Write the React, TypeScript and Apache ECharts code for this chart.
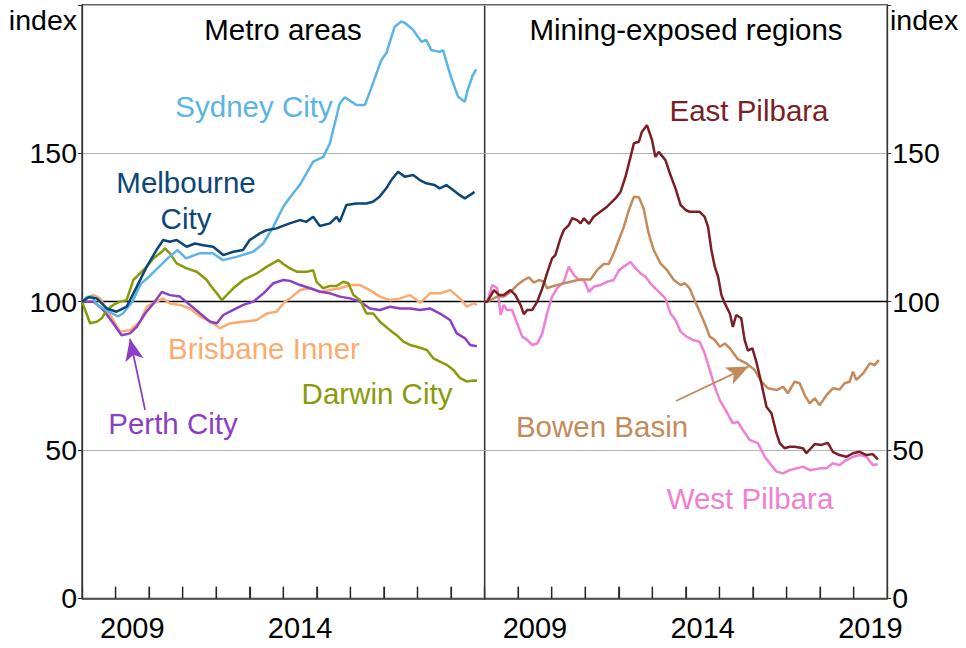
import { useEffect, useRef } from "react";
import * as echarts from "echarts";

const FONT = '"Liberation Sans", Arial, Helvetica, sans-serif';

// ---- Metro areas (left panel) : [year, index] ----
const sydneyCity = [
  [2008.0, 100], [2008.15, 101.5], [2008.3, 101.8], [2008.44, 99], [2008.74, 97], [2009.07, 95],
  [2009.22, 96], [2009.5, 100], [2009.75, 106], [2010.0, 108.4], [2010.3, 111.8], [2010.6, 115.1],
  [2010.85, 117.4], [2011.1, 114.6], [2011.5, 116.3], [2011.9, 116.3], [2012.2, 114], [2012.6, 115.1],
  [2013.1, 116.8], [2013.4, 119.6], [2013.7, 125.2], [2014.0, 132], [2014.19, 135], [2014.49, 139.3],
  [2014.89, 147.2], [2015.19, 148.8], [2015.39, 153.4], [2015.68, 166.8], [2015.83, 168.9], [2016.18, 166.3],
  [2016.43, 166.3], [2016.58, 170.7], [2016.92, 181.4], [2017.07, 183.7], [2017.32, 192.7], [2017.52, 194.4],
  [2017.62, 194], [2017.87, 191.6], [2018.12, 187.6], [2018.26, 188.2], [2018.41, 184.8], [2018.66, 184.2],
  [2018.76, 184.8], [2019.01, 175.3], [2019.21, 169.1], [2019.41, 167.4], [2019.5, 171.5], [2019.65, 176.4],
  [2019.75, 178.3],
];
const melbourneCity = [
  [2008.0, 100], [2008.2, 101.5], [2008.44, 101.1], [2008.74, 97.7], [2009.03, 96.6], [2009.33, 98.3],
  [2009.63, 105], [2009.93, 111.8], [2010.22, 117.4], [2010.42, 120.8], [2010.62, 120.2], [2010.82, 120.8],
  [2011.12, 118.5], [2011.37, 119.6], [2011.61, 119], [2011.91, 118.5], [2012.21, 115.7], [2012.51, 116.8],
  [2012.8, 117.4], [2013.0, 120.8], [2013.3, 123], [2013.5, 124.1], [2013.8, 124.7], [2014.05, 125.8],
  [2014.19, 126.4], [2014.49, 127.5], [2014.69, 126.9], [2014.89, 128.6], [2015.09, 125.5], [2015.39, 126.4],
  [2015.59, 128.6], [2015.68, 126.9], [2015.88, 132.6], [2016.18, 133.1], [2016.48, 133.1], [2016.67, 133.7],
  [2016.87, 135.4], [2017.07, 138.2], [2017.22, 141], [2017.42, 143.8], [2017.62, 142.1], [2017.87, 142.7],
  [2018.07, 141], [2018.26, 139.9], [2018.51, 139.3], [2018.66, 138.2], [2018.86, 139.3], [2019.06, 137.6],
  [2019.26, 135.9], [2019.41, 134.8], [2019.56, 135.9], [2019.7, 137],
];
const darwinCity = [
  [2008.0, 100], [2008.1, 97], [2008.24, 92.7], [2008.44, 93.2], [2008.59, 94.4], [2008.74, 97.2],
  [2008.93, 98.9], [2009.13, 100], [2009.33, 100.5], [2009.53, 107.3], [2009.73, 109.5], [2009.93, 111.8],
  [2010.13, 114.6], [2010.38, 116.8], [2010.47, 118], [2010.62, 116.3], [2010.82, 112.9], [2011.12, 111.2],
  [2011.42, 110.1], [2011.72, 107.3], [2011.82, 105.6], [2012.02, 102.8], [2012.17, 100.5], [2012.31, 102.2],
  [2012.51, 104.5], [2012.81, 107.3], [2013.21, 109.5], [2013.51, 111.8], [2013.85, 114], [2014.05, 112.3],
  [2014.2, 111.2], [2014.4, 110.1], [2014.7, 110.1], [2014.89, 110.6], [2014.99, 106.7], [2015.19, 104.5],
  [2015.39, 105.3], [2015.59, 105.3], [2015.79, 106.7], [2015.94, 106.2], [2016.09, 102.2], [2016.29, 100.5],
  [2016.48, 96], [2016.68, 96], [2016.88, 93.2], [2017.18, 90.4], [2017.38, 88.7], [2017.58, 86.5],
  [2017.78, 85.4], [2017.98, 84.8], [2018.28, 83.7], [2018.47, 80.9], [2018.67, 79.8], [2018.87, 78.7],
  [2019.07, 77], [2019.27, 74.2], [2019.47, 73.1], [2019.67, 73.4], [2019.77, 73.3],
];
const brisbaneInner = [
  [2008.0, 100], [2008.15, 101.5], [2008.34, 102.2], [2008.54, 101.1], [2008.74, 97.2], [2008.93, 93.8],
  [2009.13, 89.9], [2009.43, 90.4], [2009.73, 93.2], [2009.93, 98.3], [2010.22, 100], [2010.42, 101.1],
  [2010.62, 99.4], [2010.92, 98.9], [2011.22, 97.7], [2011.52, 95], [2011.91, 92.7], [2012.11, 91],
  [2012.41, 92.7], [2012.81, 93.2], [2013.21, 93.8], [2013.51, 96], [2013.8, 96.6], [2014.05, 100],
  [2014.2, 101.1], [2014.5, 103.9], [2014.8, 104.5], [2015.1, 103.3], [2015.39, 103.9], [2015.69, 104.5],
  [2015.99, 105.6], [2016.29, 105.6], [2016.58, 103.9], [2016.88, 101.7], [2017.18, 100.5], [2017.48, 101.1],
  [2017.78, 102.2], [2018.08, 99.6], [2018.37, 102.8], [2018.67, 102.8], [2018.97, 103.9], [2019.27, 101.1],
  [2019.47, 98.3], [2019.67, 99.4], [2019.77, 98.9],
];
const perthCity = [
  [2008.0, 100], [2008.34, 100], [2008.64, 97.2], [2008.93, 92.7], [2009.18, 88.7], [2009.43, 89.3],
  [2009.63, 91.5], [2009.88, 96], [2010.13, 99.4], [2010.38, 103.3], [2010.62, 102.2], [2010.92, 101.7],
  [2011.22, 98.9], [2011.52, 96], [2011.82, 93.2], [2012.02, 92.7], [2012.21, 95.5], [2012.51, 97.2],
  [2012.81, 98.9], [2013.11, 100], [2013.41, 102.8], [2013.7, 106.2], [2014.0, 107.3], [2014.2, 107],
  [2014.5, 105.6], [2014.8, 104.5], [2015.1, 103.3], [2015.39, 102.8], [2015.69, 101.7], [2015.99, 101.1],
  [2016.29, 100], [2016.58, 97.7], [2016.88, 97.2], [2017.18, 98.3], [2017.48, 97.7], [2017.78, 97.7],
  [2018.08, 97.2], [2018.37, 97.7], [2018.67, 96], [2018.97, 93.8], [2019.17, 89.3], [2019.42, 87.6],
  [2019.57, 85.4], [2019.77, 85],
];

// ---- Mining-exposed regions (right panel) ----
const eastPilbara = [
  [2008.0, 100], [2008.08, 100], [2008.28, 103.9], [2008.43, 102.2], [2008.57, 102.2], [2008.77, 103.9],
  [2008.92, 102.2], [2009.07, 98.9], [2009.17, 95.8], [2009.27, 97.2], [2009.42, 97.2], [2009.57, 100],
  [2009.72, 104.5], [2009.86, 109.5], [2010.01, 114.6], [2010.11, 115.7], [2010.26, 121.3], [2010.36, 124.1],
  [2010.51, 125.8], [2010.61, 128.1], [2010.76, 127.5], [2010.86, 126.4], [2010.96, 128.1], [2011.11, 126.2],
  [2011.25, 128.6], [2011.45, 130.3], [2011.65, 132], [2011.75, 133.1], [2011.9, 134.8], [2012.05, 137],
  [2012.2, 142.1], [2012.35, 148.8], [2012.45, 153.4], [2012.6, 153.9], [2012.69, 157.3], [2012.84, 159.5],
  [2012.99, 154.5], [2013.09, 148.8], [2013.19, 150.5], [2013.39, 147.7], [2013.54, 142.7], [2013.69, 138.2],
  [2013.84, 132.6], [2013.99, 130.9], [2014.11, 130.3], [2014.41, 130.3], [2014.56, 128.6], [2014.66, 125.2],
  [2014.76, 117.4], [2014.86, 111.8], [2014.96, 108.4], [2015.06, 102.2], [2015.16, 99.4], [2015.31, 96],
  [2015.4, 91.5], [2015.5, 95.5], [2015.65, 94.4], [2015.75, 87.1], [2015.85, 83.5], [2015.98, 84.3],
  [2016.1, 79.7], [2016.25, 72.5], [2016.4, 64.6], [2016.55, 62.4], [2016.7, 55.6], [2016.8, 52.2],
  [2016.94, 50.6], [2017.09, 51.1], [2017.24, 51.1], [2017.49, 50.6], [2017.59, 48.9], [2017.84, 52],
  [2018.04, 51.7], [2018.23, 52.4], [2018.38, 49.4], [2018.58, 48.3], [2018.78, 47.7], [2018.98, 48.9],
  [2019.18, 49.4], [2019.38, 48.3], [2019.57, 48.6], [2019.72, 46.8],
];
const bowenBasin = [
  [2008.0, 100], [2008.08, 100], [2008.38, 101.7], [2008.57, 101.7], [2008.77, 103.3], [2008.97, 105.6],
  [2009.17, 107.3], [2009.32, 108.2], [2009.47, 106.4], [2009.62, 107.3], [2009.77, 106.7], [2009.86, 104.5],
  [2010.06, 105.3], [2010.26, 105.9], [2010.56, 106.7], [2010.86, 107.5], [2011.16, 107.5], [2011.35, 110.6],
  [2011.55, 112.7], [2011.7, 112.7], [2011.85, 116.3], [2012.0, 120.8], [2012.15, 125.2], [2012.3, 130.9],
  [2012.45, 135.4], [2012.6, 135.2], [2012.74, 131.4], [2012.89, 123], [2013.04, 117.4], [2013.24, 112.9],
  [2013.44, 110.6], [2013.64, 107.3], [2013.84, 105.6], [2013.97, 106.2], [2014.11, 104.5], [2014.26, 100.5],
  [2014.41, 96.6], [2014.56, 92.7], [2014.71, 88.2], [2014.86, 87.1], [2015.01, 84.8], [2015.16, 85.9],
  [2015.31, 84.3], [2015.55, 80.6], [2015.8, 79.2], [2016.05, 77], [2016.25, 73], [2016.45, 70.8],
  [2016.7, 70.2], [2016.9, 71.3], [2017.04, 69.1], [2017.24, 73], [2017.39, 72.5], [2017.54, 68.5],
  [2017.69, 65.7], [2017.84, 67.4], [2017.99, 65.1], [2018.19, 68.5], [2018.38, 70.8], [2018.58, 70.4],
  [2018.73, 72.5], [2018.88, 73], [2018.98, 76.4], [2019.08, 73.6], [2019.28, 75.8], [2019.48, 79.2],
  [2019.63, 78.6], [2019.75, 80.3],
];
const westPilbara = [
  [2008.0, 100], [2008.08, 100], [2008.23, 105.6], [2008.38, 104.5], [2008.48, 95.5], [2008.57, 98.9],
  [2008.67, 97.2], [2008.82, 97.2], [2008.97, 92.7], [2009.12, 88.2], [2009.27, 87.1], [2009.42, 85.4],
  [2009.57, 85.9], [2009.72, 89.3], [2009.86, 96], [2010.01, 101.7], [2010.16, 104.5], [2010.36, 106.7],
  [2010.51, 111.8], [2010.66, 109], [2010.81, 107.3], [2010.96, 107.3], [2011.11, 103.3], [2011.25, 105],
  [2011.45, 105.6], [2011.65, 106.7], [2011.85, 107.3], [2012.0, 110.6], [2012.15, 111.8], [2012.35, 113.4],
  [2012.5, 111.2], [2012.65, 109.5], [2012.8, 108.4], [2012.94, 106.2], [2013.14, 103.9], [2013.39, 101.1],
  [2013.54, 96], [2013.69, 93.8], [2013.84, 89.9], [2014.02, 88.2], [2014.21, 87.1], [2014.41, 86.5],
  [2014.56, 82.6], [2014.71, 77], [2014.86, 71.3], [2015.01, 66.8], [2015.21, 62.9], [2015.4, 59],
  [2015.55, 59.5], [2015.7, 56.7], [2015.9, 53.4], [2016.15, 52.2], [2016.35, 47.7], [2016.5, 45.5],
  [2016.7, 42.7], [2016.9, 42.1], [2017.09, 43.2], [2017.29, 43.8], [2017.49, 44.4], [2017.69, 43.2],
  [2017.99, 43.8], [2018.19, 43.8], [2018.38, 45.5], [2018.58, 44.9], [2018.78, 46.6], [2018.98, 47.7],
  [2019.18, 48.3], [2019.38, 47.7], [2019.57, 44.9], [2019.72, 45.2],
];

const tickYears = [2009, 2010, 2011, 2012, 2013, 2014, 2015, 2016, 2017, 2018, 2019];
const leftYearLabels = [2009, 2014];
const rightYearLabels = [2009, 2014, 2019];
const perthArrow = [[2009.88, 63.5], [2009.43, 87.5]];
const bowenArrow = [[2013.7, 66.5], [2015.87, 78.1]];

const C = {
  sydney: "#5AB4E5",
  melbourne: "#0B4679",
  darwin: "#8A9A0B",
  brisbane: "#FDAA6E",
  perth: "#8B3FC4",
  east: "#7B1E26",
  bowen: "#C48A5A",
  west: "#F07FD3",
};

const AXIS_COLOR = "#333";
const G_TOP = 5;
const G_H = 593.3;
const G_W = 402.6;
const LEFT1 = 82;
const LEFT2 = 484.6;
const ANN = 29.5;
const HALF_YEAR_PX = G_W / 12;
const TICK_LEN = 11.5;
const TICK_UNITS = TICK_LEN / (G_H / 200);

function xAxis(gridIndex: number, years: number[]) {
  return {
    type: "value" as const,
    gridIndex,
    position: "bottom" as const,
    min: 2008,
    max: 2020,
    interval: 1,
    axisLine: { show: true, onZero: false, lineStyle: { color: AXIS_COLOR, width: 1.5 } },
    axisTick: { show: true, inside: true, length: TICK_LEN, lineStyle: { color: AXIS_COLOR, width: 1.2 } },
    axisLabel: {
      show: true,
      interval: 0,
      margin: 15,
      fontSize: 29,
      fontFamily: FONT,
      color: "#000",
      align: "center",
      padding: [0, 0, 0, HALF_YEAR_PX],
      showMinLabel: true,
      showMaxLabel: true,
      formatter: (v: number) => (years.includes(Math.round(v)) ? String(Math.round(v)) : ""),
    },
    splitLine: { show: false },
  };
}

function yAxis(gridIndex: number, position: "left" | "right") {
  return {
    type: "value" as const,
    gridIndex,
    position,
    min: 0,
    max: 200,
    interval: 50,
    axisLine: { show: true, onZero: false, lineStyle: { color: AXIS_COLOR, width: 1.3 } },
    axisTick: { show: true, inside: false, length: 4, lineStyle: { color: AXIS_COLOR } },
    axisLabel: {
      show: true,
      margin: 5,
      fontSize: 28.5,
      fontFamily: FONT,
      color: "#000",
      formatter: (v: number) => (v === 200 ? "" : String(v)),
    },
    splitLine: { show: true, lineStyle: { color: "#b4b4b4", width: 1 } },
  };
}

function lineSeries(name: string, data: any[], color: string, xi: number, yi: number, extra: any = {}) {
  return {
    type: "line" as const,
    name,
    data,
    xAxisIndex: xi,
    yAxisIndex: yi,
    showSymbol: false,
    symbol: "none",
    smooth: false,
    lineStyle: { color, width: 2.5 },
    itemStyle: { color },
    z: 3,
    ...extra,
  };
}

// short vertical segments rising from the x axis at each year boundary, broken by empty values
const tickData: any[] = [];
tickYears.forEach((yr) => {
  tickData.push([yr, 0], [yr, TICK_UNITS], "-");
});

function tickSeries(xi: number, yi: number) {
  return lineSeries("year ticks", tickData, "#222", xi, yi, {
    lineStyle: { color: "#222", width: 1.3 },
    connectNulls: false,
    silent: true,
    clip: false,
    z: 5,
  });
}

const hundredLine = {
  silent: true,
  symbol: "none",
  label: { show: false },
  lineStyle: { color: "#000", width: 1.3, type: "solid" as const },
  data: [{ yAxis: 100 }],
  z: 2,
};

function arrowMark(pts: number[][], color: string) {
  return {
    silent: true,
    symbol: ["none", "arrow"],
    symbolSize: 16,
    label: { show: false },
    lineStyle: { color, width: 1.8, type: "solid" as const },
    data: [[
      { coord: pts[0], symbol: "none", symbolSize: 1 },
      { coord: pts[1], symbol: "arrow", symbolSize: [14, 22] },
    ]],
  };
}

function txt(text: string, x: number, y: number, color: string, align: string = "center", size: number = ANN) {
  return {
    type: "text",
    x,
    y,
    silent: true,
    z: 10,
    style: {
      text,
      fill: color,
      fontSize: size,
      fontFamily: FONT,
      align,
      verticalAlign: "middle",
    },
  };
}

export default function App() {
  const ref = useRef<HTMLDivElement>(null);

  useEffect(() => {
    if (!ref.current) return;
    const chart = echarts.init(ref.current, null, { renderer: "svg" });
    const option: any = {
      animation: false,
      backgroundColor: "#fff",
      textStyle: { fontFamily: FONT },
      grid: [
        { left: LEFT1, top: G_TOP, width: G_W, height: G_H, show: true, borderColor: AXIS_COLOR, borderWidth: 1.3, backgroundColor: "transparent" },
        { left: LEFT2, top: G_TOP, width: G_W, height: G_H, show: true, borderColor: AXIS_COLOR, borderWidth: 1.3, backgroundColor: "transparent" },
      ],
      xAxis: [xAxis(0, leftYearLabels), xAxis(1, rightYearLabels)],
      yAxis: [yAxis(0, "left"), yAxis(1, "right")],
      series: [
        lineSeries("Brisbane Inner", brisbaneInner, C.brisbane, 0, 0, { markLine: hundredLine }),
        lineSeries("Perth City", perthCity, C.perth, 0, 0, { markLine: arrowMark(perthArrow, C.perth) }),
        lineSeries("Darwin City", darwinCity, C.darwin, 0, 0),
        lineSeries("Sydney City", sydneyCity, C.sydney, 0, 0),
        lineSeries("Melbourne City", melbourneCity, C.melbourne, 0, 0),
        lineSeries("West Pilbara", westPilbara, C.west, 1, 1, { markLine: hundredLine }),
        lineSeries("Bowen Basin", bowenBasin, C.bowen, 1, 1, { markLine: arrowMark(bowenArrow, C.bowen) }),
        lineSeries("East Pilbara", eastPilbara, C.east, 1, 1),
        tickSeries(0, 0),
        tickSeries(1, 1),
      ],
      graphic: [
        txt("index", 77, 20, "#000", "right", 28.5),
        txt("index", 890, 20, "#000", "left", 28.5),
        txt("Metro areas", 283, 29, "#000"),
        txt("Mining-exposed regions", 686, 29, "#000"),
        txt("Sydney City", 254, 106, C.sydney),
        txt("Melbourne", 186, 182, C.melbourne),
        txt("City", 186, 218, C.melbourne),
        txt("Brisbane Inner", 264, 348, C.brisbane),
        txt("Darwin City", 377, 393, C.darwin),
        txt("Perth City", 173, 423, C.perth),
        txt("East Pilbara", 749, 110, C.east),
        txt("Bowen Basin", 602, 426, C.bowen),
        txt("West Pilbara", 750, 498, C.west),
      ],
    };
    chart.setOption(option);
    return () => chart.dispose();
  }, []);

  return (
    <div
      ref={ref}
      style={{ position: "fixed", left: 0, top: 0, width: 966, height: 648, background: "#fff" }}
    />
  );
}
